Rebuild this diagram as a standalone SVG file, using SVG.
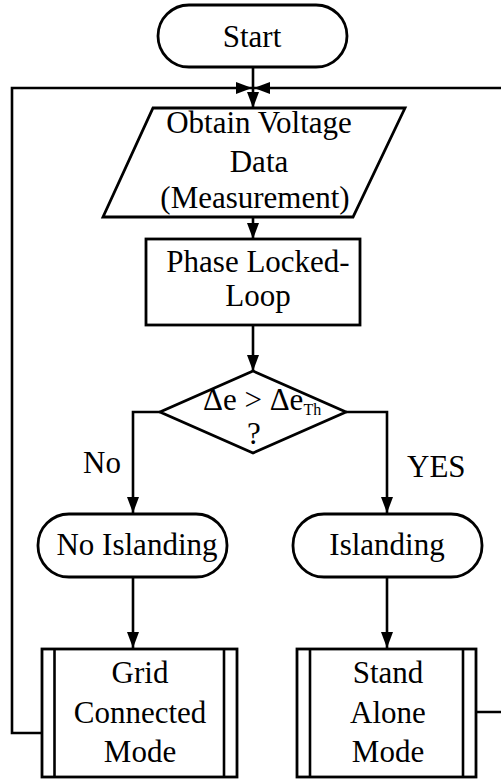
<svg xmlns="http://www.w3.org/2000/svg" width="501" height="779" viewBox="0 0 501 779">
  <defs>
    <marker id="arrow" viewBox="0 0 16 12" refX="16" refY="6" markerWidth="16" markerHeight="12" markerUnits="userSpaceOnUse" orient="auto">
      <path d="M0,0 L16,6 L0,12 Z" fill="#000"/>
    </marker>
    <style>
      .shape { fill: #fff; stroke: #000; stroke-width: 2.8; }
      .wire { fill: none; stroke: #000; stroke-width: 2.6; }
      .lbl { font-family: "Liberation Serif", "Times New Roman", serif; font-size: 31px; fill: #000; text-anchor: middle; }
      .lbl-start { font-family: "Liberation Serif", "Times New Roman", serif; font-size: 31px; fill: #000; }
    </style>
  </defs>
  <rect width="501" height="779" fill="#fff"/>

  <!-- connectors -->
  <g id="connectors">
    <path class="wire" d="M253,67 V108" marker-end="url(#arrow)"/>
    <path class="wire" d="M253,217 V239" marker-end="url(#arrow)"/>
    <path class="wire" d="M253,325 V371" marker-end="url(#arrow)"/>
    <path class="wire" d="M160,412 H133 V513" marker-end="url(#arrow)"/>
    <path class="wire" d="M346,412 H387 V513" marker-end="url(#arrow)"/>
    <path class="wire" d="M133,577 V648" marker-end="url(#arrow)"/>
    <path class="wire" d="M387,577 V648" marker-end="url(#arrow)"/>
    <!-- loop back from Grid Connected Mode -->
    <path class="wire" d="M42,733 H12 V88 H252" marker-end="url(#arrow)"/>
    <!-- loop back from Stand Alone Mode -->
    <path class="wire" d="M476,712 H503 V88 H254" marker-end="url(#arrow)"/>
  </g>

  <g id="start">
    <rect class="shape" x="158" y="5" width="189" height="62" rx="31" ry="31"/>
    <text class="lbl" x="252" y="47">Start</text>
  </g>

  <g id="obtain-data">
    <polygon class="shape" points="153,108 405,108 353,217 103,217"/>
    <text class="lbl" x="259" y="133">Obtain Voltage</text>
    <text class="lbl" x="259" y="172">Data</text>
    <text class="lbl" x="255" y="208">(Measurement)</text>
  </g>

  <g id="pll">
    <rect class="shape" x="146" y="239" width="214" height="86"/>
    <text class="lbl" x="258" y="272">Phase Locked-</text>
    <text class="lbl" x="258" y="306">Loop</text>
  </g>

  <g id="decision">
    <polygon class="shape" points="253,371 346,412 253,453 160,412"/>
    <text class="lbl-start" x="203" y="410">Δe &gt; Δe<tspan font-size="16" dy="5">Th</tspan></text>
    <text class="lbl" x="254" y="444">?</text>
  </g>

  <g id="branch-labels">
    <text class="lbl-start" x="83" y="473">No</text>
    <text class="lbl-start" x="407" y="477">YES</text>
  </g>

  <g id="no-islanding">
    <rect class="shape" x="38" y="514" width="189" height="63" rx="31" ry="31"/>
    <text class="lbl" x="137" y="555">No Islanding</text>
  </g>

  <g id="islanding">
    <rect class="shape" x="293" y="514" width="189" height="63" rx="31" ry="31"/>
    <text class="lbl" x="387" y="555">Islanding</text>
  </g>

  <g id="grid-connected">
    <rect class="shape" x="42" y="649" width="195" height="128"/>
    <line class="wire" x1="54.5" y1="649" x2="54.5" y2="777"/>
    <line class="wire" x1="224" y1="649" x2="224" y2="777"/>
    <text class="lbl" x="140" y="683">Grid</text>
    <text class="lbl" x="140" y="723">Connected</text>
    <text class="lbl" x="140" y="762">Mode</text>
  </g>

  <g id="stand-alone">
    <rect class="shape" x="297" y="649" width="179" height="128"/>
    <line class="wire" x1="310" y1="649" x2="310" y2="777"/>
    <line class="wire" x1="463" y1="649" x2="463" y2="777"/>
    <text class="lbl" x="388" y="683">Stand</text>
    <text class="lbl" x="388" y="723">Alone</text>
    <text class="lbl" x="388" y="762">Mode</text>
  </g>
</svg>
